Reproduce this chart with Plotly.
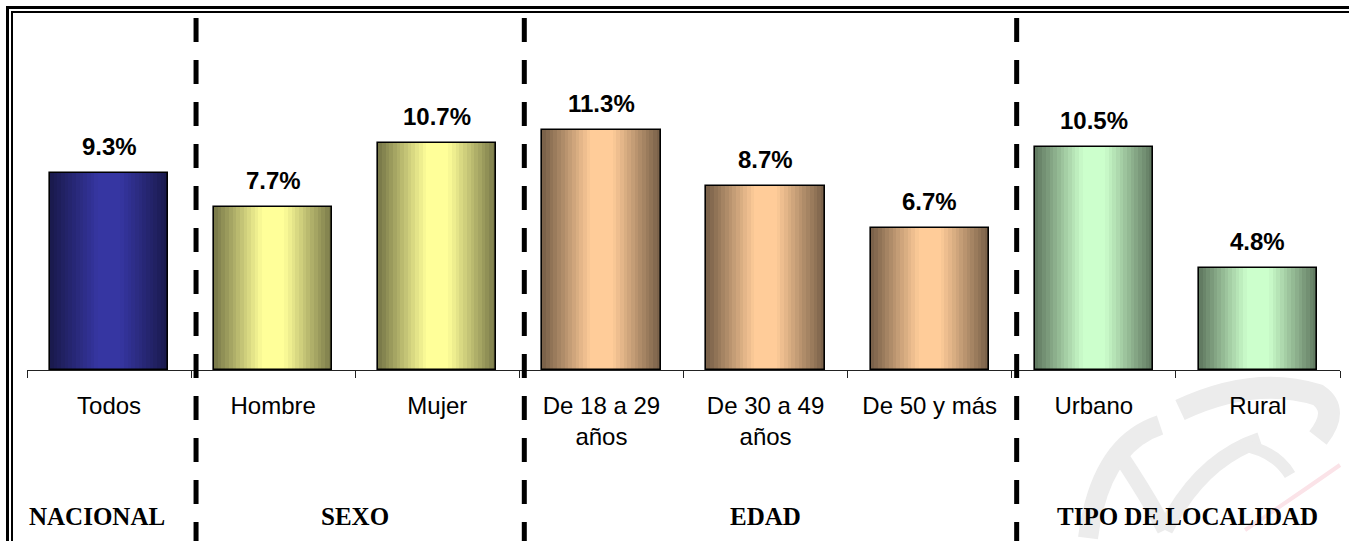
import plotly.graph_objects as go

# ---------------- data ----------------
categories = ["Todos", "Hombre", "Mujer", "De 18 a 29 años", "De 30 a 49 años",
              "De 50 y más", "Urbano", "Rural"]
tick_labels = ["Todos", "Hombre", "Mujer", "De 18 a 29<br>años", "De 30 a 49<br>años",
               "De 50 y más", "Urbano", "Rural"]
values = [9.3, 7.7, 10.7, 11.3, 8.7, 6.7, 10.5, 4.8]
groups = ["NACIONAL", "SEXO", "EDAD", "TIPO DE LOCALIDAD"]
group_sizes = [1, 2, 3, 2]

# ---------------- style ----------------
W, H = 1349, 541
ML, MR, MT, MB = 27, 9, 20, 171
PW, PH = W - ML - MR, H - MT - MB
group_light = [(0x36, 0x36, 0xa2), (0xff, 0xff, 0x99), (0xff, 0xcc, 0x99), (0xcc, 0xff, 0xcc)]
group_label_xshift = [-12, 0, 0, 12]
DARK = 0.46
BAR_W = 0.72
N_LAYERS = 16


def px_x(p):
    return (p - ML) / PW


def px_y(p):
    return (H - MB - p) / PH


bar_group = []
for gi, n in enumerate(group_sizes):
    bar_group += [gi] * n


def shade(rgb, f):
    k = DARK + (1 - DARK) * f
    return "rgb(%d,%d,%d)" % tuple(int(round(c * k)) for c in rgb)


fig = go.Figure()
for k in range(N_LAYERS):
    frac = k / N_LAYERS
    f = min(1.0, (k + 0.5) / (N_LAYERS * 0.82))
    fig.add_trace(go.Bar(
        x=categories, y=values, width=BAR_W * (1 - frac),
        marker=dict(color=[shade(group_light[g], f) for g in bar_group], line=dict(width=0)),
        hoverinfo="skip", showlegend=False,
    ))
# outline
fig.add_trace(go.Bar(
    x=categories, y=values, width=BAR_W,
    marker=dict(color="rgba(0,0,0,0)", line=dict(color="black", width=1.6)),
    hoverinfo="skip", showlegend=False,
))

annotations = []
for c, v in zip(categories, values):
    annotations.append(dict(
        x=c, y=v, xref="x", yref="y", text="<b>%.1f%%</b>" % v, showarrow=False,
        yanchor="bottom", yshift=11,
        font=dict(family="Arial, Liberation Sans", size=24, color="black"),
    ))

# group labels and separators
shapes = []
start = 0
for gi, (name, n) in enumerate(zip(groups, group_sizes)):
    center = start + (n - 1) / 2
    annotations.append(dict(
        x=center, y=px_y(516), xref="x", yref="paper", text="<b>%s</b>" % name,
        showarrow=False, yanchor="middle", xshift=group_label_xshift[gi],
        font=dict(family="Liberation Serif, Times New Roman", size=25, color="black"),
    ))
    if gi > 0:
        bx = start - 0.5 + 0.03
        shapes.append(dict(
            type="line", xref="x", yref="paper", x0=bx, x1=bx,
            y0=px_y(18), y1=px_y(H),
            line=dict(color="black", width=5, dash="24px,18px"),
        ))
    start += n

# double frame (only the left and top edges fall inside the picture)
for off, lw in [(7.5, 3), (12, 2)]:
    shapes.append(dict(type="line", xref="paper", yref="paper",
                       x0=px_x(off), x1=px_x(off), y0=px_y(off - lw / 2), y1=px_y(H),
                       line=dict(color="black", width=lw)))
    shapes.append(dict(type="line", xref="paper", yref="paper",
                       x0=px_x(off - lw / 2), x1=px_x(W), y0=px_y(off), y1=px_y(off),
                       line=dict(color="black", width=lw)))


def path(points):
    s = "M %f,%f" % (px_x(points[0][0]), px_y(points[0][1]))
    rest = points[1:]
    for i in range(0, len(rest), 2):
        (qx, qy), (ex, ey) = rest[i], rest[i + 1]
        s += " Q %f,%f %f,%f" % (px_x(qx), px_y(qy), px_x(ex), px_y(ey))
    return s


# faint watermark (decoration)
wm = "#ececec"
for pts, lw, col in [
    ([(1180, 410), (1255, 375), (1318, 395), (1340, 410), (1318, 438)], 22, wm),
    ([(1160, 425), (1100, 445), (1088, 538)], 20, wm),
    ([(1120, 455), (1150, 500), (1165, 530)], 16, wm),
    ([(1165, 530), (1200, 460), (1260, 440)], 16, wm),
    ([(1240, 445), (1275, 450), (1290, 475)], 12, wm),
    ([(1245, 530), (1290, 500), (1340, 465)], 4, "#fbe3e8"),
]:
    shapes.append(dict(type="path", xref="paper", yref="paper", path=path(pts),
                       line=dict(color=col, width=lw), layer="below"))

fig.update_layout(
    width=W, height=H,
    margin=dict(l=ML, r=MR, t=MT, b=MB, pad=0),
    paper_bgcolor="white", plot_bgcolor="rgba(0,0,0,0)",
    barmode="overlay", bargap=0,
    showlegend=False,
    annotations=annotations, shapes=shapes,
    xaxis=dict(
        type="category", range=[-0.5, len(categories) - 0.5],
        tickmode="array", tickvals=categories, ticktext=tick_labels,
        tickson="boundaries", ticks="outside", ticklen=7, tickwidth=1, tickcolor="#222",
        ticklabelstandoff=14,
        showline=True, linecolor="#222", linewidth=1, showgrid=False, zeroline=False,
        tickfont=dict(family="Arial, Liberation Sans", size=24, color="black"),
        fixedrange=True,
    ),
    yaxis=dict(range=[0, PH / 21.2], visible=False, showgrid=False, fixedrange=True),
)

fig.write_html(
    "out.html",
    config={"displayModeBar": False},
    post_script="document.body.style.margin='0';document.body.style.overflow='hidden';",
)
